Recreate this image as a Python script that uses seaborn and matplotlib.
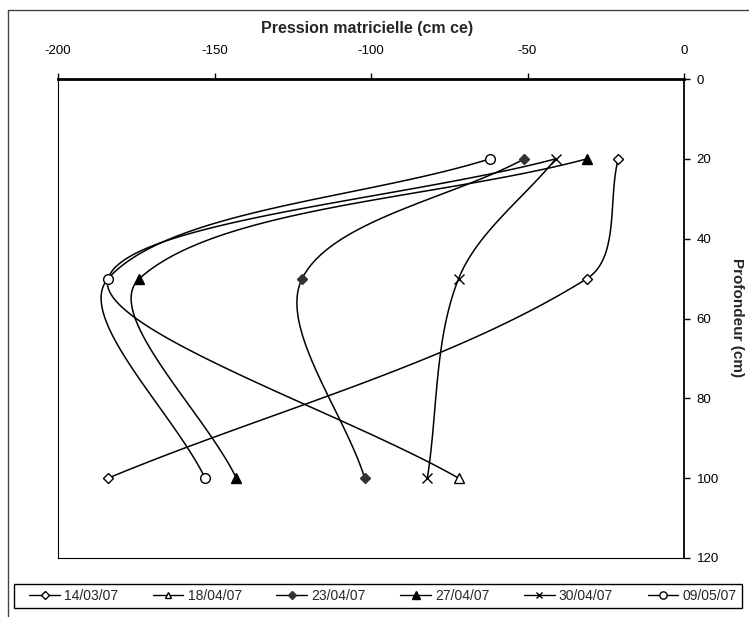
import numpy as np
import pandas as pd
import matplotlib
matplotlib.use("Agg")
import matplotlib.pyplot as plt
from matplotlib.lines import Line2D
from matplotlib.patches import Rectangle
import seaborn as sns

# ---- data ----
depths = [20, 50, 100]
dates = ["14/03/07", "18/04/07", "23/04/07", "27/04/07", "30/04/07", "09/05/07"]
p_1403 = [-21, -31, -184]
p_1804 = [-41, -184, -72]
p_2304 = [-51, -122, -102]
p_2704 = [-31, -174, -143]
p_3004 = [-41, -72, -82]
p_0905 = [-62, -184, -153]
series = [p_1403, p_1804, p_2304, p_2704, p_3004, p_0905]

x_ticks = [-200, -150, -100, -50, 0]
y_ticks = [0, 20, 40, 60, 80, 100, 120]

sns.set_theme(style="white")
plt.rcParams['font.family'] = ['Liberation Sans', 'DejaVu Sans']

W, H = 749, 617
fig = plt.figure(figsize=(W / 100, H / 100), dpi=100)
L, R, T, B = 58, 684, 79, 558
ax = fig.add_axes([L / W, (H - B) / H, (R - L) / W, (B - T) / H])

sx = (R - L) / 200.0
sy = (B - T) / 120.0


def smooth(xs, ys, n=60):
    P = np.column_stack([np.asarray(xs, float) * sx, np.asarray(ys, float) * sy])
    m = len(P)
    out = []
    for i in range(m - 1):
        p0 = P[i - 1] if i > 0 else P[i]
        p1 = P[i]
        p2 = P[i + 1]
        p3 = P[i + 2] if i + 2 < m else P[i + 1]
        d01 = np.linalg.norm(p1 - p0)
        d12 = np.linalg.norm(p2 - p1)
        d23 = np.linalg.norm(p3 - p2)
        t1 = (p2 - p0) / (d01 + d12)
        t2 = (p3 - p1) / (d12 + d23)
        c1 = p1 + t1 * d12 / 3.0
        c2 = p2 - t2 * d12 / 3.0
        t = np.linspace(0, 1, n)[:, None]
        seg = ((1 - t) ** 3) * p1 + 3 * ((1 - t) ** 2) * t * c1 + 3 * (1 - t) * t ** 2 * c2 + t ** 3 * p2
        out.append(seg if i == 0 else seg[1:])
    S = np.vstack(out)
    return S[:, 0] / sx, S[:, 1] / sy


styles = {
    "14/03/07": dict(marker="D", mfc="white", mec="black", ms=5.5, mew=1.0),
    "18/04/07": dict(marker="^", mfc="white", mec="black", ms=6.5, mew=1.0),
    "23/04/07": dict(marker="D", mfc="#333333", mec="#333333", ms=5.5, mew=1.0),
    "27/04/07": dict(marker="^", mfc="black", mec="black", ms=7, mew=1.0),
    "30/04/07": dict(marker="x", mfc="black", mec="black", ms=6.5, mew=1.0),
    "09/05/07": dict(marker="o", mfc="white", mec="black", ms=7, mew=1.0),
}
markevery = {"18/04/07": [2]}

# smoothed lines
for d, vals in zip(dates, series):
    cx, cy = smooth(vals, depths)
    df = pd.DataFrame({"x": cx, "y": cy})
    sns.lineplot(data=df, x="x", y="y", sort=False, estimator=None, color="black",
                 linewidth=1.1, ax=ax, legend=False, zorder=2)

# markers
for d, vals in zip(dates, series):
    st = styles[d]
    ax.plot(vals, depths, linestyle="none", markevery=markevery.get(d), zorder=3, **st)

ax.set_xlim(-200, 0)
ax.set_ylim(120, 0)
ax.set_xticks(x_ticks)
ax.set_yticks(y_ticks)
ax.set_xticklabels([str(v) for v in x_ticks])
ax.set_yticklabels([str(v) for v in y_ticks])
ax.xaxis.tick_top()
ax.yaxis.tick_right()
ax.tick_params(axis="x", which="both", direction="out", length=4, width=1, pad=12,
               labelsize=9.5, colors="black", top=True, bottom=False)
ax.tick_params(axis="y", which="both", direction="out", length=4, width=1, pad=5,
               labelsize=9.5, colors="black", right=True, left=False)
ax.set_xlabel("")
ax.set_ylabel("")
ax.grid(False)
for s in ["left", "bottom"]:
    ax.spines[s].set_visible(True)
    ax.spines[s].set_color("black")
    ax.spines[s].set_linewidth(0.8)
ax.spines["top"].set_color("black")
ax.spines["top"].set_linewidth(2.0)
ax.spines["right"].set_color("black")
ax.spines["right"].set_linewidth(1.3)

fig.text(367 / W, 1 - 29 / H, "Pression matricielle (cm ce)", ha="center", va="center",
         fontsize=11.5, fontweight="bold")
fig.text(737 / W, 1 - 318 / H, "Profondeur (cm)", ha="center", va="center",
         rotation=-90, fontsize=11, fontweight="bold")

# outer chart border (top and left visible)
fig.add_artist(Line2D([8 / W, 1.0], [1 - 10 / H, 1 - 10 / H], transform=fig.transFigure,
                      color="#444444", lw=1))
fig.add_artist(Line2D([8 / W, 8 / W], [0, 1 - 10 / H], transform=fig.transFigure,
                      color="#444444", lw=1))

# legend frame
fig.add_artist(Rectangle((14 / W, 1 - 608 / H), 728 / W, 24 / H, transform=fig.transFigure,
                         facecolor="white", edgecolor="black", lw=1, zorder=4))

handles = []
for d in dates:
    st = dict(styles[d])
    st["ms"] = st["ms"] * 0.75
    handles.append(Line2D([0], [0], color="black", lw=1, **st))
leg = fig.legend(handles, dates, loc="center",
                 bbox_to_anchor=(383 / W, 1 - 596 / H),
                 ncol=6, fontsize=10, frameon=False, borderaxespad=0,
                 handlelength=2.2, handletextpad=0.3, columnspacing=2.5, borderpad=0.0)
leg.set_zorder(5)

fig.savefig("out.png", dpi=100)
